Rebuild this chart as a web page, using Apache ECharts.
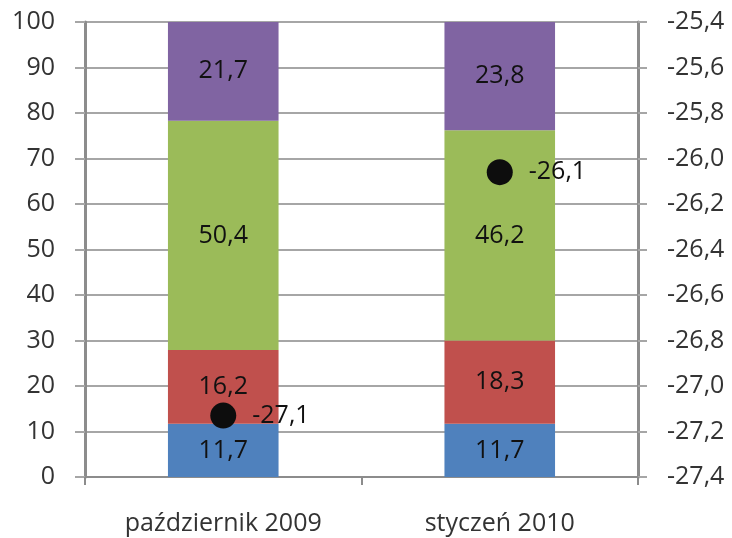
<!DOCTYPE html>
<html lang="pl">
<head>
<meta charset="UTF-8">
<title>Wykres</title>
<style>
  html, body { margin: 0; padding: 0; background: #fff; }
  #box { width: 732px; height: 538px; }
</style>
</head>
<body>
<div id="box"></div>
<script src="https://cdn.jsdelivr.net/npm/echarts@6/dist/echarts.min.js"></script>
<script>
// dane
var categories = ['październik 2009', 'styczeń 2010'];
var blue = [11.7, 11.7];
var red = [16.2, 18.3];
var green = [50.4, 46.2];
var purple = [21.7, 23.8];
var points = [-27.13, -26.06];
var pointLabels = ['-27,1', '-26,1'];

var FONT = 'Open Sans';
var FS = 25;
var gridColor = '#a6a6a6';
var axisColor = '#8c8c8c';

function comma(v) {
  return String(v).replace('.', ',');
}

function barSeries(data, color) {
  return {
    type: 'bar',
    stack: 'all',
    data: data,
    barWidth: '40%',
    itemStyle: { color: color },
    label: {
      show: true,
      position: 'inside',
      color: '#111',
      fontFamily: FONT,
      fontSize: FS,
      formatter: function (p) { return comma(p.value.toFixed(1)); }
    }
  };
}

var myChart = echarts.init(document.getElementById('box'));

var option = {
  animation: false,
  grid: { left: 85, right: 94, top: 22, bottom: 61 },
  xAxis: {
    type: 'category',
    data: categories,
    axisLine: { lineStyle: { color: axisColor, width: 2 } },
    axisTick: { show: true, length: 8, lineStyle: { color: axisColor, width: 2 } },
    axisLabel: { color: '#333', fontFamily: FONT, fontSize: FS, margin: 34 }
  },
  yAxis: [{
    type: 'value',
    min: 0,
    max: 100,
    interval: 10,
    axisLine: { show: true, lineStyle: { color: axisColor, width: 3 } },
    axisTick: { show: true, length: 10, lineStyle: { color: gridColor, width: 2 } },
    splitLine: { lineStyle: { color: gridColor, width: 2 } },
    axisLabel: { color: '#333', fontFamily: FONT, fontSize: FS, margin: 30 }
  }, {
    type: 'value',
    position: 'right',
    min: -27.4,
    max: -25.4,
    interval: 0.2,
    axisLine: { show: true, lineStyle: { color: axisColor, width: 3 } },
    axisTick: { show: true, length: 9, lineStyle: { color: gridColor, width: 2 } },
    splitLine: { show: false },
    axisLabel: {
      color: '#333', fontFamily: FONT, fontSize: FS, margin: 29,
      formatter: function (v) { return comma(v.toFixed(1)); }
    }
  }],
  series: [
    barSeries(blue, '#4f81bd'),
    barSeries(red, '#c0504d'),
    barSeries(green, '#9bbb59'),
    barSeries(purple, '#8064a2'),
    {
      type: 'scatter',
      yAxisIndex: 1,
      data: points,
      symbolSize: 26,
      itemStyle: { color: '#0d0d0d', opacity: 1 },
      z: 5,
      label: {
        show: true,
        position: 'right',
        distance: 16,
        color: '#111',
        fontFamily: FONT,
        fontSize: FS,
        formatter: function (p) { return pointLabels[p.dataIndex]; }
      }
    }
  ]
};

myChart.setOption(option);
</script>
</body>
</html>
